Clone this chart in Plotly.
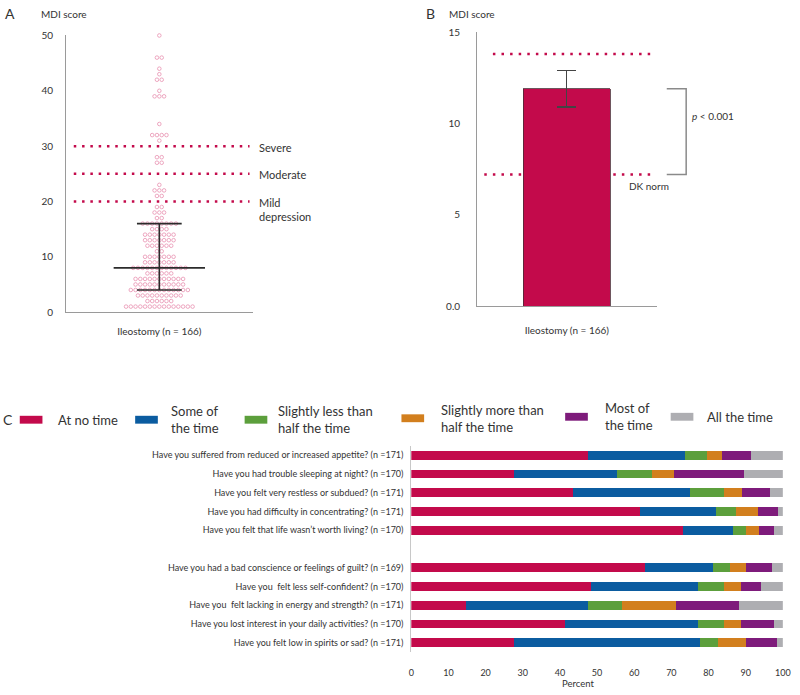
import numpy as np
import plotly.graph_objects as go

# ─── Panel A: MDI score per patient (score level -> number of patients) ───
mdi_scores = [1, 2, 3, 4, 5, 6, 7, 8, 9, 10, 11, 12, 13, 14, 15, 16, 17, 18, 19,
              21, 22, 23, 27, 28, 31, 32, 34, 39, 40, 42, 43, 44, 46, 50]
mdi_counts = [15, 6, 10, 13, 11, 11, 6, 12, 7, 7, 2, 6, 7, 7, 4, 8, 2, 3, 2,
              2, 3, 1, 2, 2, 1, 4, 1, 3, 1, 2, 1, 1, 2, 1]
a_q1, a_median, a_q3 = 4, 8, 16
severity_cutoffs = [20, 25, 30]
severity_labels = ["Mild<br>depression", "Moderate", "Severe"]
group_label = "Ileostomy (n = 166)"

# ─── Panel B: mean MDI score vs Danish norm ───
b_mean = 11.9
b_err = 1.0
b_upper_ref = 13.8
dk_norm = 7.2
b_ticks = [0, 5, 10, 15]
b_ticktext = ["0.0", "5", "10", "15"]

# ─── Panel C: MDI items ───
questions = [
    "Have you suffered from reduced or increased appetite? (n =171)",
    "Have you had trouble sleeping at night? (n =170)",
    "Have you felt very restless or subdued? (n =171)",
    "Have you had difficulty in concentrating? (n =171)",
    "Have you felt that life wasn\u2019t worth living? (n =170)",
    "Have you had a bad conscience or feelings of guilt? (n =169)",
    "Have you  felt less self-confident? (n =170)",
    "Have you  felt lacking in energy and strength? (n =171)",
    "Have you lost interest in your daily activities? (n =170)",
    "Have you felt low in spirits or sad? (n =171)",
]
responses = ["At no time", "Some of<br>the time", "Slightly less than<br>half the time",
             "Slightly more than<br>half the time", "Most of<br>the time", "All the time"]
at_no_time = [47.6, 27.7, 43.5, 61.5, 73.1, 62.8, 48.3, 14.8, 41.3, 27.6]
some_of_time = [26.2, 27.7, 31.5, 20.4, 13.4, 18.4, 28.9, 32.7, 35.9, 50.2]
slightly_less = [5.7, 9.3, 9.3, 5.4, 3.6, 4.7, 7.0, 9.2, 7.1, 4.8]
slightly_more = [4.2, 5.9, 4.6, 5.9, 3.5, 4.2, 4.6, 14.6, 4.5, 7.5]
most_of_time = [7.7, 18.9, 7.6, 5.6, 4.1, 7.1, 5.4, 17.0, 8.9, 8.4]
all_the_time = [8.6, 10.5, 3.5, 1.2, 2.3, 2.8, 5.8, 11.7, 2.3, 1.5]
series = [at_no_time, some_of_time, slightly_less, slightly_more, most_of_time, all_the_time]

CRIMSON = "#c30a4b"
colors = [CRIMSON, "#0b5ca0", "#5c9f3c", "#d27f1e", "#7e1b7b", "#aeaeb2"]
TEXT = "#333333"
AXIS = "#9a9a9a"
FONT = "Lato"

W, H = 800, 695


def px(x):
    return x / W


def py(y):
    return 1 - y / H


fig = go.Figure()

# ─── A: dot plot ───
dot_step = 0.051
xs, ys = [], []
for s, n in zip(mdi_scores, mdi_counts):
    offs = (np.arange(n) - (n - 1) / 2) * dot_step
    xs += list(offs)
    ys += [s] * n
fig.add_trace(go.Scatter(
    x=xs, y=ys, mode="markers", xaxis="x", yaxis="y", cliponaxis=False,
    marker=dict(symbol="circle-open", size=3.6, color="#e892b1", line=dict(width=0.8)),
    hoverinfo="skip"))

# median + quartile whiskers
fig.add_trace(go.Scatter(
    x=[-0.49, 0.49, None, -0.24, 0.24, None, -0.24, 0.24, None, 0, 0],
    y=[a_median, a_median, None, a_q1, a_q1, None, a_q3, a_q3, None, a_q1, a_q3],
    mode="lines", xaxis="x", yaxis="y", line=dict(color="#2b2b2b", width=1.6),
    hoverinfo="skip"))

# ─── B: bar with error ───
fig.add_trace(go.Bar(
    x=[0], y=[b_mean], xaxis="x2", yaxis="y2", width=0.97,
    marker=dict(color=CRIMSON, line=dict(color="#4a2a35", width=0.8)),
    error_y=dict(type="data", array=[b_err], color="#444444", thickness=1.3, width=9.5)))

# ─── C: stacked horizontal bars ───
y_pos = [i if i < 5 else i + 1 for i in range(len(questions))]
for name, vals, col in zip(responses, series, colors):
    fig.add_trace(go.Bar(
        y=y_pos, x=vals, orientation="h", xaxis="x3", yaxis="y3", width=0.47,
        name=name.replace("<br>", " "), marker=dict(color=col, line=dict(width=0))))

shapes = []
dot_dash = "2.5px,5.8px"
for c in severity_cutoffs:
    shapes.append(dict(type="line", xref="x domain", yref="y", x0=0.041, x1=0.984, y0=c, y1=c,
                       line=dict(color=CRIMSON, width=2.5, dash=dot_dash)))
shapes.append(dict(type="line", xref="x2 domain", yref="y2", x0=0.088, x1=0.969,
                   y0=b_upper_ref, y1=b_upper_ref,
                   line=dict(color=CRIMSON, width=2.5, dash="2.5px,6.1px")))
shapes.append(dict(type="line", xref="x2 domain", yref="y2", x0=0.04, x1=0.969,
                   y0=dk_norm, y1=dk_norm, layer="below",
                   line=dict(color=CRIMSON, width=2.5, dash="2.5px,6.1px")))
# significance bracket
shapes.append(dict(type="path", xref="paper", yref="y2",
                   path=f"M {px(673)},{b_mean} L {px(692.7)},{b_mean} L {px(692.7)},{dk_norm} L {px(673)},{dk_norm}",
                   line=dict(color="#8a8a8a", width=1.5)))

# hand-built legend for panel C
leg_swatch_x = [17, 134, 245, 404, 570, 677]
leg_text_x = [54, 168, 277, 442, 608, 712]
leg_y = [421, 421, 421, 419.5, 418, 418]
annotations = []
for lab, col, sx, tx, ly in zip(responses, colors, leg_swatch_x, leg_text_x, leg_y):
    shapes.append(dict(type="rect", xref="paper", yref="paper", x0=px(sx), x1=px(sx + 23),
                       y0=py(ly + 4), y1=py(ly - 4), fillcolor=col, line=dict(width=0)))
    annotations.append(dict(text=lab, xref="paper", yref="paper", x=px(tx), y=py(ly),
                            xanchor="left", yanchor="middle", showarrow=False, align="left",
                            font=dict(size=13, color=TEXT)))


def note(text, x, y, size=10, xanchor="left", **kw):
    annotations.append(dict(text=text, xref="paper", yref="paper", x=px(x), y=py(y),
                            xanchor=xanchor, yanchor="middle", showarrow=False,
                            font=dict(size=size, color=TEXT), **kw))


note("A", 0, 8, size=14)
note("MDI score", 36, 8)
note("B", 427, 8, size=14)
note("MDI score", 450, 8)
note("C", -2, 421, size=14)
note("<i>p</i> < 0.001", 697, 112)
note("DK norm", 633, 183)
note("Percent", 583, 689, size=9.5, xanchor="center")

for c, lab in zip(severity_cutoffs, severity_labels):
    annotations.append(dict(text=lab, xref="paper", yref="y", x=px(258), y=c,
                            xanchor="left", yanchor="top", yshift=7.5, showarrow=False,
                            align="left", font=dict(size=11, color=TEXT)))

common = dict(showgrid=False, zeroline=False, linecolor=AXIS, linewidth=1, ticks="",
              tickfont=dict(size=10, color=TEXT))

fig.update_layout(
    width=W, height=H, margin=dict(l=0, r=0, t=0, b=0),
    paper_bgcolor="white", plot_bgcolor="white", showlegend=False,
    barmode="stack", font=dict(family=FONT, size=10, color=TEXT),
    xaxis=dict(domain=[px(64), px(253)], range=[-1, 1], anchor="y", showline=True,
               tickvals=[0], ticktext=[group_label], ticklabelstandoff=10, **common),
    yaxis=dict(domain=[py(311.5), py(30)], range=[0, 50], anchor="x", showline=True,
               tickvals=[0, 10, 20, 30, 40, 50], ticklabelstandoff=10, **common),
    xaxis2=dict(domain=[px(480.7), px(662.7)], range=[-1, 1], anchor="y2", showline=True,
                tickvals=[0], ticktext=[group_label], ticklabelstandoff=15, **common),
    yaxis2=dict(domain=[py(305.5), py(26.5)], range=[0, 15], anchor="x2", showline=True,
                tickvals=b_ticks, ticktext=b_ticktext, ticklabelstandoff=14, **common),
    xaxis3=dict(domain=[px(414), px(790.7)], range=[0, 100], anchor="y3", showline=False,
                tickvals=list(range(0, 101, 10)), ticklabelstandoff=14,
                **{k: v for k, v in common.items() if k != "tickfont"},
                tickfont=dict(size=9, color=TEXT)),
    yaxis3=dict(domain=[py(657.5), py(447.5)], range=[10.5, -0.5], anchor="x3", showline=True,
                tickvals=y_pos, ticktext=questions, ticklabelstandoff=5,
                **{k: v for k, v in common.items() if k not in ("tickfont", "linecolor")},
                linecolor="#c8c8c8", tickfont=dict(size=9, color=TEXT)),
    shapes=shapes,
    annotations=annotations,
)

fig.write_html("out.html", config={"displayModeBar": False},
               post_script="document.body.style.margin='0';")
